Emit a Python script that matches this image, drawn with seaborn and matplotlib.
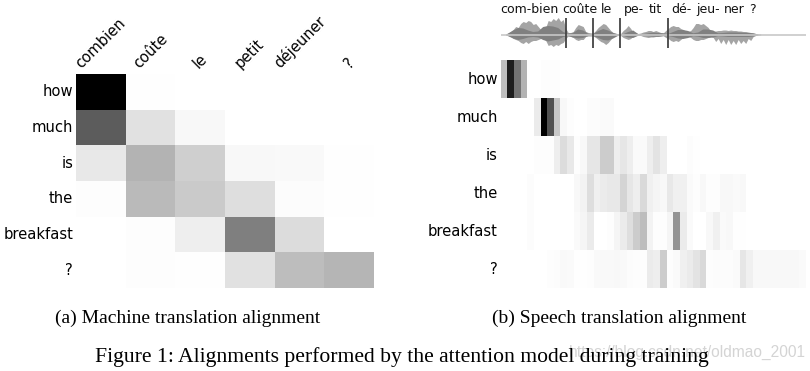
import numpy as np
import pandas as pd
import matplotlib
matplotlib.use("Agg")
import matplotlib.pyplot as plt
import seaborn as sns

english = ["how", "much", "is", "the", "breakfast", "?"]
french = ["combien", "coûte", "le", "petit", "déjeuner", "?"]

mt_how = [1.0, 0.005, 0, 0, 0, 0]
mt_much = [0.64, 0.12, 0.03, 0, 0, 0]
mt_is = [0.09, 0.30, 0.19, 0.03, 0.025, 0.005]
mt_the = [0.01, 0.27, 0.21, 0.13, 0.015, 0.005]
mt_breakfast = [0, 0.01, 0.07, 0.50, 0.14, 0]
mt_q = [0, 0.01, 0.005, 0.12, 0.26, 0.29]

sp_how = [0.25, 0.88, 0.55, 0.30, 0, 0, 0.01, 0.01, 0.01, 0, 0, 0, 0, 0, 0, 0,
          0, 0, 0, 0, 0, 0, 0, 0, 0, 0, 0, 0, 0, 0, 0, 0,
          0, 0, 0, 0, 0, 0, 0, 0, 0, 0, 0, 0, 0, 0]
sp_much = [0, 0, 0, 0, 0, 0.08, 1.0, 0.68, 0.22, 0.03, 0.01, 0, 0, 0.015, 0.015, 0.02,
           0.02, 0, 0, 0, 0, 0, 0, 0, 0, 0, 0, 0, 0, 0, 0, 0,
           0, 0, 0, 0, 0, 0, 0, 0, 0, 0, 0, 0, 0, 0]
sp_is = [0, 0, 0, 0, 0, 0.01, 0.01, 0.01, 0.07, 0.14, 0.09, 0.01, 0.03, 0.10, 0.10, 0.20,
         0.20, 0.07, 0.10, 0.07, 0.02, 0.02, 0.07, 0.11, 0.07, 0, 0, 0, 0.015, 0.005, 0, 0,
         0, 0, 0, 0, 0, 0, 0, 0, 0, 0, 0, 0, 0, 0]
sp_the = [0, 0, 0, 0, 0.015, 0, 0, 0, 0, 0, 0, 0.03, 0.05, 0.13, 0.06, 0.08,
          0.09, 0.09, 0.17, 0.10, 0.07, 0.15, 0.06, 0.04, 0.03, 0.09, 0.06, 0.06, 0.02, 0.01, 0.03, 0.01,
          0.01, 0.03, 0.03, 0.02, 0.03, 0, 0, 0, 0, 0, 0, 0, 0, 0]
sp_breakfast = [0, 0, 0, 0, 0.015, 0, 0, 0, 0, 0, 0, 0.02, 0.04, 0.08, 0, 0,
                0.01, 0.04, 0.08, 0.13, 0.20, 0.26, 0.05, 0.01, 0.01, 0.04, 0.42, 0.08, 0.02, 0, 0, 0.03,
                0.06, 0.02, 0.03, 0.005, 0.005, 0, 0, 0, 0, 0, 0, 0, 0, 0]
sp_q = [0, 0, 0, 0, 0, 0, 0, 0.01, 0.015, 0.025, 0.02, 0.005, 0.005, 0.01, 0.025, 0.025,
        0.025, 0.03, 0.025, 0.015, 0.01, 0.01, 0.08, 0.07, 0.20, 0.01, 0.02, 0.06, 0.08, 0.11, 0.15, 0.01,
        0.015, 0.015, 0.015, 0.02, 0.10, 0.06, 0.03, 0.03, 0.03, 0.03, 0.03, 0.03, 0.03, 0.02]

syllables = ["com-bien", "coûte", "le", "pe-", "tit", "dé-", "jeu-", "ner", "?"]
syllable_starts = [0, 61.7, 99.7, 123, 148, 171, 195.7, 223, 248]
syllable_ends = [65, 92.3, 119.7, 167.7]

# sound wave envelope, one value per 2.5 px from t=5
outer_up = [0.5, 1.5, 3, 5, 8, 7, 11, 13, 12, 14, 13, 10, 11,
            8, 5, 5, 7, 14, 13, 16, 14, 17, 13, 15, 6,
            2, 2, 3, 7, 10, 9, 8, 3, 2, 1.5,
            1.5, 4, 7, 9, 11, 10, 7, 4, 2, 1, 1,
            1, 4, 6, 9, 6, 2, 1.5, 1, 1.5, 2.5, 3,
            4, 4, 3, 4, 3, 2, 1.5, 4, 6, 8,
            9, 8, 8, 6, 5, 3, 3, 4, 7, 11,
            11, 10, 11, 9, 7, 3, 3,
            3.5, 4, 4, 4.5, 4.5, 4, 4.5, 4, 4, 3.5, 3.5, 3, 3, 2.5, 2, 1.5, 1, 0.7, 0.5]
outer_dn = [0.5, 1, 2, 4, 5, 6, 8, 9, 7, 9, 7, 6, 6,
            5, 4, 4, 6, 11, 10, 12, 10, 11, 9, 8, 4,
            1.5, 2, 3, 5, 6, 5, 5, 2, 1.5, 1.5,
            1.5, 3, 5, 7, 8, 10, 8, 5, 2, 1, 1,
            1, 3, 4, 5, 4, 1.5, 1, 1, 1, 2, 2.5,
            3, 2.5, 2.5, 2, 2, 1.5, 1, 3, 4, 6,
            7, 6, 7, 5, 3, 2, 2, 3, 5, 6,
            6, 5, 5, 4, 3, 2, 3,
            7, 4, 9, 5, 10, 5, 10, 6, 10, 5, 9, 6, 9, 4, 6, 2, 1, 0.7, 0.5]
inner_t = [5, 7, 12, 17, 22, 27, 32, 37, 42, 47, 52, 57, 62, 67, 72, 77, 82, 87, 92,
           97, 102, 107, 112, 117, 122, 127, 132, 137, 142, 147, 152, 157, 162, 167, 172,
           177, 182, 187, 192, 197, 202, 207, 212, 217, 222, 227, 232, 237, 242, 247, 252, 257]
inner_up = [0.4, 1.5, 4.5, 7, 6.5, 4.5, 3, 3.5, 8, 9, 8.5, 7, 3, 1.2, 2, 5.5, 4.5, 1.2, 1,
            4, 6, 4.5, 2, 0.8, 0.8, 3, 4.5, 1, 1, 1.7, 2.5, 2, 1.7, 1, 3,
            5, 5, 4, 1.7, 2.5, 5.5, 5.5, 4.5, 1.7, 2, 2.5, 2.5, 2.5, 2.3, 2, 1.7, 0.5]
inner_dn = [0.4, 1.2, 3.5, 5, 4, 2.5, 2, 2.5, 5, 6.5, 5.5, 4.5, 2, 1, 2.5, 3.5, 3, 1, 1,
            3, 5, 5.5, 3.5, 0.8, 0.8, 2.5, 3, 0.8, 0.8, 1.2, 1.7, 1.7, 1.2, 1, 2,
            3.5, 4, 3, 1.2, 1.7, 3, 3, 2.5, 1.2, 1.5, 2, 2, 2, 2, 2, 1.5, 0.5]

W, H = 810, 371


def px_axes(left, top, right, bottom):
    return fig.add_axes([left / W, 1 - bottom / H, (right - left) / W, (bottom - top) / H])


fig = plt.figure(figsize=(W / 100, H / 100), dpi=100)
label_font = 10.6

ax1 = px_axes(76, 74, 374, 288)
mt = pd.DataFrame([mt_how, mt_much, mt_is, mt_the, mt_breakfast, mt_q], index=english, columns=french)
sns.heatmap(mt, ax=ax1, cmap="gray_r", vmin=0, vmax=1, cbar=False)
ax1.xaxis.tick_top()
ax1.tick_params(length=0, pad=2)
plt.setp(ax1.get_xticklabels(), rotation=45, ha="center", va="bottom", fontsize=label_font)
plt.setp(ax1.get_yticklabels(), rotation=0, fontsize=label_font)

ax2 = px_axes(500.7, 60, 806, 288)
sp = pd.DataFrame([sp_how, sp_much, sp_is, sp_the, sp_breakfast, sp_q], index=english)
sns.heatmap(sp, ax=ax2, cmap="gray_r", vmin=0, vmax=1, cbar=False, xticklabels=False)
ax2.tick_params(length=0, pad=2)
plt.setp(ax2.get_yticklabels(), rotation=0, fontsize=label_font)

ax3 = px_axes(500.7, 0, 806, 60)
ax3.set_xlim(0, 305.3)
ax3.set_ylim(-25.5, 34.5)
ax3.axis("off")
outer_t = 5 + 2.5 * np.arange(len(outer_up))
ax3.plot([0, 305], [0, 0], color="#c8c8c8", lw=1.2)
ax3.fill_between(outer_t, -np.array(outer_dn), outer_up, color="#a4a4a4", lw=0)
ax3.fill_between(inner_t, -np.array(inner_dn), inner_up, color="#808080", lw=0)
ax3.vlines(syllable_ends, -13.5, 16.5, color="#444444", lw=1.3)
for word, start in zip(syllables, syllable_starts):
    ax3.text(start, 25, word, fontsize=9, va="center", ha="left", color="#111111")

serif = "Liberation Serif"
fig.text(806 / W, 1 - 352 / H, "https://blog.csdn.net/oldmao_2001", family="Liberation Sans",
         fontsize=11.2, va="center", ha="right", color="#d4d4d4")
fig.text(55 / W, 1 - 318 / H, "(a) Machine translation alignment", family=serif, fontsize=14, va="center")
fig.text(492 / W, 1 - 318 / H, "(b) Speech translation alignment", family=serif, fontsize=14, va="center")
fig.text(95 / W, 1 - 357 / H, "Figure 1: Alignments performed by the attention model during training",
         family=serif, fontsize=15.6, va="center")

fig.savefig("out.png", dpi=100)
